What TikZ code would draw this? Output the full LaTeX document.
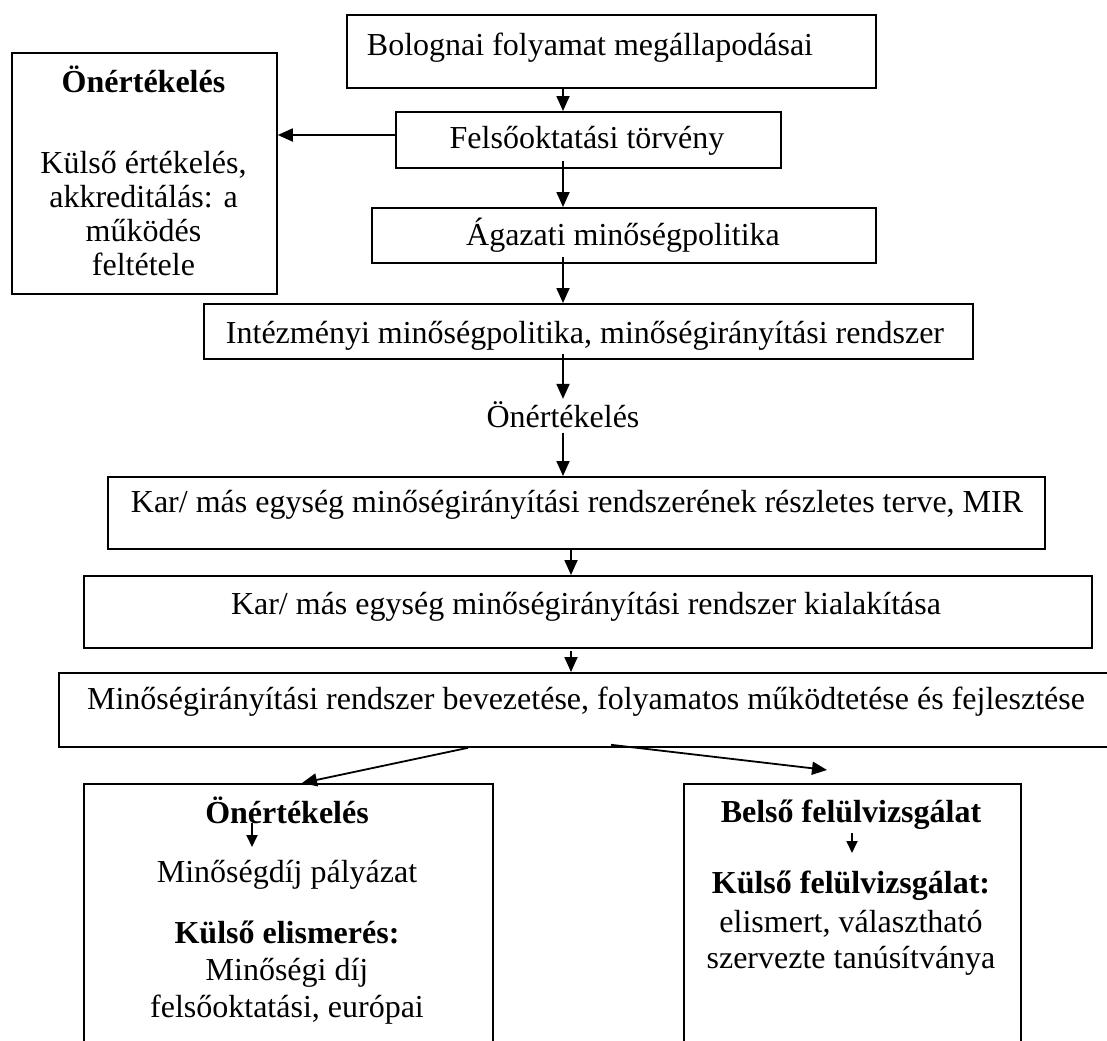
\documentclass[tikz,border=0pt]{standalone}
\usepackage{fontspec}
\setmainfont{Liberation Serif}
\usetikzlibrary{arrows.meta,calc}
\begin{document}
\begin{tikzpicture}[x=1bp,y=-1bp,
  boxst/.style={draw, line width=1.8bp, inner sep=0pt, anchor=north west},
  txt/.style={inner sep=0pt, anchor=base, font=\fontsize{32bp}{36bp}\selectfont},
  btxt/.style={txt, font=\fontsize{32bp}{36bp}\selectfont\bfseries},
  arr/.style={line width=1.8bp, -{Triangle[length=15bp,width=13bp]}},
  sarr/.style={line width=1.8bp, -{Triangle[length=12bp,width=11bp]}}]
\useasboundingbox (0,0) rectangle (1107,1041);
\clip (0,0) rectangle (1107,1041);
\coordinate (ax) at (563,0);
\coordinate (bx) at (571,0);
% boxes
\node[boxst, minimum width=265bp, minimum height=241bp] (lb) at (11,52) {};
\node[boxst, minimum width=529bp, minimum height=73bp] (b1) at (346,14) {};
\node[boxst, minimum width=385bp, minimum height=56bp] (b2) at (395,111) {};
\node[boxst, minimum width=504bp, minimum height=55bp] (b3) at (371,207) {};
\node[boxst, minimum width=769bp, minimum height=55bp] (b4) at (203,303) {};
\node[boxst, minimum width=937bp, minimum height=72bp] (b5) at (107,476) {};
\node[boxst, minimum width=1008bp, minimum height=72bp] (b6) at (83,575) {};
\node[boxst, minimum width=1057bp, minimum height=74bp] (b7) at (58,672) {};
\node[boxst, minimum width=409bp, minimum height=270bp] (ll) at (83,783) {};
\node[boxst, minimum width=337bp, minimum height=270bp] (rr) at (683,783) {};
% texts
\node[btxt] (l1) at (143.5,92) {Önértékelés};
\node[txt] (l2) at (143.5,173) {Külső értékelés,};
\node[txt] (l3) at (143.5,207) {akkreditálás: a};
\node[txt] (l4) at (143.5,241) {működés};
\node[txt] (l5) at (143.5,275) {feltétele};
\node[txt] (t1) at (590,55) {Bolognai folyamat megállapodásai};
\node[txt] (t2) at (587,148) {Felsőoktatási törvény};
\node[txt] (t3) at (623,245) {Ágazati minőségpolitika};
\node[txt] (t4) at (585,343) {Intézményi minőségpolitika, minőségirányítási rendszer};
\node[txt] (mid) at (563,427) {Önértékelés};
\node[txt] (t5) at (577,512) {Kar/ más egység minőségirányítási rendszerének részletes terve, MIR};
\node[txt] (t6) at (586,614) {Kar/ más egység minőségirányítási rendszer kialakítása};
\node[txt] (t7) at (586,709) {Minőségirányítási rendszer bevezetése, folyamatos működtetése és fejlesztése};
\node[btxt] (lo1) at (287,823) {Önértékelés};
\node[txt] (lo2) at (287,882) {Minőségdíj pályázat};
\node[btxt] (lo3) at (287,943) {Külső elismerés:};
\node[txt] (lo4) at (287,980) {Minőségi díj};
\node[txt] (lo5) at (287,1017) {felsőoktatási, európai};
\node[btxt] (ro1) at (851,822) {Belső felülvizsgálat};
\node[btxt] (ro2) at (851,893) {Külső felülvizsgálat:};
\node[txt] (ro3) at (851,932) {elismert, választható};
\node[txt] (ro4) at (851,968) {szervezte tanúsítványa};
% connectors
\draw[arr] (b1.south -| ax) -- (b2.north -| ax);
\draw[arr] ($(b2.south -| ax)+(0,-8)$) -- (b3.north -| ax);
\draw[arr] ($(b3.south -| ax)+(0,-7)$) -- (b4.north -| ax);
\draw[arr] (b2.west |- 0,135) -- (lb.east |- 0,135);
\draw[arr] ($(b4.south -| ax)+(0,-6)$) -- ($(mid.north)+(0,-2)$);
\draw[arr] ($(mid.south)+(0,5)$) -- (b5.north -| ax);
\draw[arr] (b5.south -| bx) -- (b6.north -| bx);
\draw[arr] ($(b6.south -| bx)+(0,2)$) -- (b7.north -| bx);
\draw[arr] ($(b7.south west)+(410,0)$) -- ($(ll.north west)+(219,0)$);
\draw[arr] ($(b7.south west)+(553,-3)$) -- ($(rr.north west)+(144,-13)$);
\draw[sarr] ($(lo1.base)+(-35,0)$) -- ($(lo1.base)+(-35,24)$);
\draw[sarr] ($(ro1.base)+(1,11)$) -- ($(ro1.base)+(1,31)$);
\end{tikzpicture}
\end{document}
